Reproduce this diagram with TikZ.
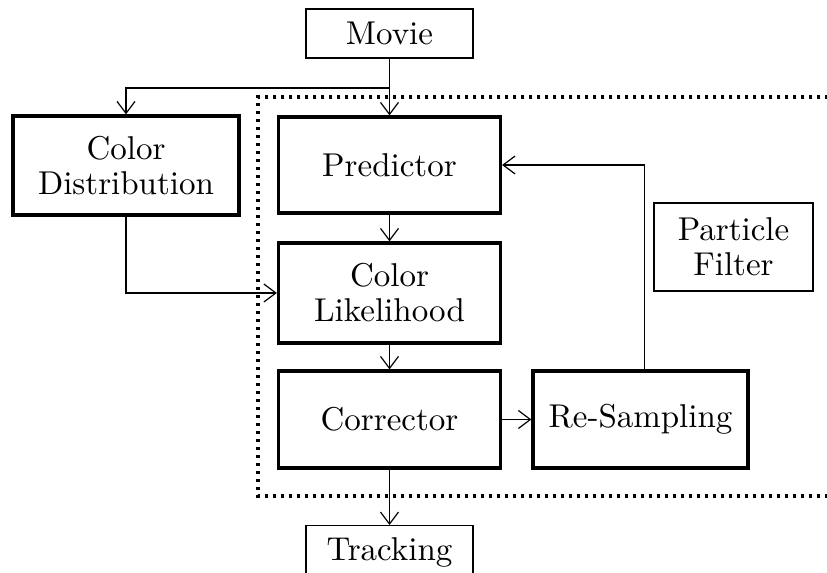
\documentclass[tikz,border=0pt]{standalone}
\usepackage{amsmath, amssymb}
\usepackage{fontspec}
\usetikzlibrary{arrows.meta}
\newfontface\boxfont{lmroman10-regular}[Extension=.otf]

\begin{document}
\begin{tikzpicture}[x=0.5pt,y=-0.5pt,
    font=\boxfont\fontsize{16.5}{17.5}\selectfont,
    >={Straight Barb[length=6pt,width=9pt]},
    thinbox/.style={draw,line width=0.6pt,align=center,inner sep=0pt},
    thickbox/.style={draw,line width=1.6pt,align=center,inner sep=0pt},
    link/.style={->,line width=0.6pt}]
  \useasboundingbox (0,0) rectangle (827,573);
  % particle filter frame
  \draw[line width=1.6pt,dash pattern=on 1.6pt off 2.4pt] (900,97) -- (258,97) -- (258,496) -- (900,496);
  \node[thinbox,minimum width=83.5pt,minimum height=24.5pt] (movie) at (389.5,33.5) {Movie};
  \node[thickbox,minimum width=113pt,minimum height=49.5pt] (coldist) at (126,165.5) {Color\\Distribution};
  \node[thickbox,minimum width=111pt,minimum height=48pt] (pred) at (389.5,165) {Predictor};
  \node[thickbox,minimum width=111pt,minimum height=50pt] (colllh) at (389.5,293) {Color\\Likelihood};
  \node[thickbox,minimum width=111pt,minimum height=48.5pt] (corr) at (389.5,419.5) {Corrector};
  \node[thickbox,minimum width=107.5pt,minimum height=48.5pt] (resamp) at (640.5,419.5) {Re-Sampling};
  \node[thinbox,minimum width=79.5pt,minimum height=44pt] (pf) at (733.5,247) {Particle\\Filter};
  \node[thinbox,minimum width=83.5pt,minimum height=27pt,anchor=north] (track) at (389.5,525) {Tracking};
  \coordinate (split) at (389.5,88);
  % connectors
  \draw[link] (movie.south) -- (pred.north);
  \draw[link] (split) -| (coldist.north);
  \draw[link] (pred.south) -- (colllh.north);
  \draw[link] (coldist.south) |- (colllh.west);
  \draw[link] (colllh.south) -- (corr.north);
  \draw[link] (corr.east) -- (resamp.west);
  \draw[link] ([xshift=2pt]resamp.north) |- (pred.east);
  \draw[link] (corr.south) -- (track.north);
\end{tikzpicture}
\end{document}
